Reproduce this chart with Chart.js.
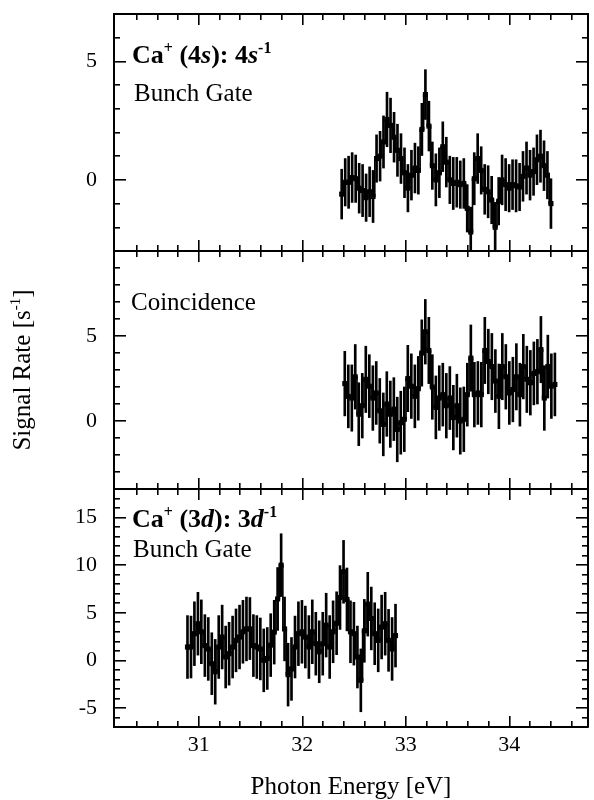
<!DOCTYPE html>
<html>
<head>
<meta charset="utf-8">
<script src="https://cdn.jsdelivr.net/npm/chart.js@4.4.1/dist/chart.umd.min.js"></script>
<style>
html,body{margin:0;padding:0;background:#fff;}
#wrap{position:relative;width:594px;height:800px;background:#fff;}
#wrap canvas{position:absolute;left:0;top:0;}
</style>
</head>
<body>
<div id="wrap">
<canvas id="c1" width="594" height="800"></canvas>
<canvas id="c2" width="594" height="800"></canvas>
<canvas id="c3" width="594" height="800"></canvas>
</div>
<script>
// ---------------- DATA ----------------
// Panel 1: Ca+ (4s): 4s^-1, Bunch Gate
const energy4s = [
  32.380, 32.414, 32.447, 32.481, 32.515, 32.549, 32.582, 32.616, 32.650, 32.683,
  32.717, 32.751, 32.784, 32.818, 32.852, 32.886, 32.919, 32.953, 32.987, 33.020,
  33.054, 33.088, 33.121, 33.155, 33.189, 33.223, 33.256, 33.290, 33.324, 33.357,
  33.391, 33.425, 33.458, 33.492, 33.526, 33.560, 33.593, 33.627, 33.661, 33.694,
  33.728, 33.762, 33.795, 33.829, 33.863, 33.897, 33.930, 33.964, 33.998, 34.031,
  34.065, 34.099, 34.132, 34.166, 34.200, 34.234, 34.267, 34.301, 34.335, 34.368,
  34.402
];
const signal4s = [
  -0.60, -0.10, -0.10, 0.10, 0.05, -0.35, -0.45, -0.75, -0.50, -0.70,
  0.90, 1.00, 1.60, 2.55, 2.30, 1.80, 1.25, 0.90, 0.30, -0.35,
  0.20, 0.50, 0.40, 2.13, 3.60, 2.27, 0.60, 0.00, 0.30, 1.40,
  0.75, 0.00, -0.15, -0.10, -0.20, -0.15, -1.20, -2.20, 0.05, 0.90,
  0.40, -0.40, -0.50, -0.85, -2.00, -0.90, 0.00, -0.20, -0.35, -0.20,
  -0.25, -0.30, 0.15, 0.50, 0.20, 0.35, 0.85, 1.00, 0.60, 0.20,
  -1.00
];
const error4s = [
  1.05, 1.00, 1.10, 1.05, 1.00, 1.05, 1.10, 1.00, 1.05, 1.10,
  1.00, 1.05, 1.10, 1.15, 1.15, 1.05, 1.10, 1.05, 1.05, 1.00,
  1.05, 1.05, 1.00, 1.10, 1.05, 1.05, 1.00, 1.10, 1.05, 1.05,
  1.05, 1.00, 1.10, 1.05, 1.00, 1.05, 1.00, 1.05, 1.10, 1.05,
  1.00, 1.05, 1.10, 1.00, 1.05, 1.00, 1.05, 1.10, 1.00, 1.05,
  1.10, 1.00, 1.05, 1.10, 1.05, 1.00, 1.05, 1.10, 1.05, 1.00,
  1.05
];

// Panel 2: Coincidence
const energyCoinc = [
  32.410, 32.444, 32.478, 32.511, 32.545, 32.579, 32.613, 32.647, 32.681, 32.714,
  32.748, 32.782, 32.816, 32.850, 32.884, 32.917, 32.951, 32.985, 33.019, 33.053,
  33.087, 33.120, 33.154, 33.188, 33.222, 33.256, 33.290, 33.323, 33.357, 33.391,
  33.425, 33.459, 33.493, 33.526, 33.560, 33.594, 33.628, 33.662, 33.696, 33.729,
  33.763, 33.797, 33.831, 33.865, 33.899, 33.932, 33.966, 34.000, 34.034, 34.068,
  34.102, 34.135, 34.169, 34.203, 34.237, 34.271, 34.305, 34.338, 34.372, 34.406,
  34.440
];
const signalCoinc = [
  2.20, 1.45, 1.35, 2.60, 0.40, 0.90, 2.45, 2.05, 1.35, 1.65,
  0.60, -0.20, 1.00, 0.40, 0.70, -0.50, -0.10, 0.10, 2.50, 2.05,
  1.45, 1.90, 4.00, 5.25, 4.15, 2.00, 0.80, 1.35, 1.55, 0.90,
  1.35, 0.20, 0.90, 0.00, 0.10, 1.55, 3.70, 1.55, 1.65, 1.55,
  4.15, 3.50, 3.20, 2.35, 1.45, 3.20, 2.60, 1.65, 1.85, 2.60,
  1.55, 3.20, 2.45, 2.25, 2.80, 2.90, 4.20, 1.35, 3.20, 2.05,
  2.15
];
const errorCoinc = [
  1.90, 1.85, 1.95, 1.90, 1.85, 1.90, 1.95, 1.85, 1.90, 1.85,
  1.90, 1.85, 1.90, 1.95, 1.85, 1.90, 1.85, 1.90, 1.95, 1.90,
  1.85, 1.90, 1.95, 1.90, 1.95, 1.90, 1.85, 1.90, 1.85, 1.90,
  1.85, 1.90, 1.85, 1.95, 1.90, 1.85, 1.95, 1.90, 1.85, 1.90,
  1.95, 1.90, 1.95, 1.85, 1.90, 1.95, 1.90, 1.85, 1.90, 1.95,
  1.85, 1.90, 1.95, 1.90, 1.85, 1.90, 1.95, 1.90, 1.85, 1.90,
  1.85
];

// Panel 3: Ca+ (3d): 3d^-1, Bunch Gate
const energy3d = [
  30.890, 30.924, 30.957, 30.991, 31.024, 31.058, 31.091, 31.125, 31.158, 31.192,
  31.225, 31.259, 31.292, 31.326, 31.359, 31.393, 31.426, 31.460, 31.493, 31.527,
  31.560, 31.594, 31.627, 31.661, 31.694, 31.728, 31.761, 31.795, 31.828, 31.862,
  31.895, 31.929, 31.962, 31.996, 32.029, 32.063, 32.096, 32.130, 32.163, 32.197,
  32.230, 32.264, 32.297, 32.331, 32.364, 32.398, 32.431, 32.465, 32.498, 32.532,
  32.565, 32.599, 32.632, 32.666, 32.699, 32.733, 32.766, 32.800, 32.833, 32.867,
  32.900
];
const signal3d = [
  1.40, 1.40, 2.80, 3.85, 3.00, 1.55, 1.20, -0.35, -1.20, 1.40,
  2.45, 0.35, 0.70, 1.40, 2.10, 2.45, 3.00, 3.30, 3.30, 1.55,
  1.40, 1.20, 0.00, 0.20, 1.60, 2.96, 6.45, 10.00, 3.30, -1.50,
  -0.90, 1.40, 2.80, 3.00, 2.45, 1.40, 3.00, 1.75, 0.90, 1.75,
  3.70, 1.40, 3.00, 3.90, 6.60, 9.30, 6.40, 3.00, 2.80, 0.35,
  -2.10, 3.10, 5.90, 4.40, 2.80, 2.10, 3.50, 3.85, 2.10, 1.20,
  2.60
];
const error3d = [
  3.30, 3.25, 3.35, 3.30, 3.35, 3.25, 3.30, 3.25, 3.40, 3.30,
  3.35, 3.25, 3.30, 3.25, 3.30, 3.35, 3.30, 3.35, 3.30, 3.25,
  3.30, 3.25, 3.30, 3.25, 3.30, 3.35, 3.30, 3.30, 3.35, 3.30,
  3.30, 3.25, 3.35, 3.30, 3.25, 3.30, 3.35, 3.30, 3.25, 3.30,
  3.35, 3.30, 3.25, 3.30, 3.35, 3.30, 3.30, 3.25, 3.30, 3.25,
  3.30, 3.30, 3.35, 3.30, 3.25, 3.30, 3.35, 3.30, 3.25, 3.30,
  3.30
];

// Axis ranges and ticks
const xRange = [30.18, 34.76];
const xMajorTicks = [31, 32, 33, 34];
const xMinorTicks = [30.4, 30.6, 30.8, 31.2, 31.4, 31.6, 31.8, 32.2, 32.4, 32.6, 32.8,
                     33.2, 33.4, 33.6, 33.8, 34.2, 34.4, 34.6];
const yRange4s = [-3, 7];
const yMajor4s = [0, 5];
const yMinor4s = [-2, -1, 1, 2, 3, 4, 6];
const yRangeCoinc = [-4, 10];
const yMajorCoinc = [0, 5];
const yMinorCoinc = [-3, -2, -1, 1, 2, 3, 4, 6, 7, 8, 9];
const yRange3d = [-7, 18];
const yMajor3d = [-5, 0, 5, 10, 15];
const yMinor3d = [-6, -4, -3, -2, -1, 1, 2, 3, 4, 6, 7, 8, 9, 11, 12, 13, 14, 16, 17];

// ---------------- STYLE / LAYOUT ----------------
const FONT = '"Liberation Serif", "Times New Roman", Times, serif';
Chart.defaults.font.family = FONT;
Chart.defaults.color = '#000';

const FONTS = {
  b: 'bold 26px ' + FONT,
  bi: 'italic bold 26px ' + FONT,
  r: '25px ' + FONT,
  supb: 'bold 16px ' + FONT,
  supr: '15px ' + FONT
};

function makeRichTextPlugin(items) {
  return {
    id: 'richText',
    afterDraw(chart) {
      const ctx = chart.ctx;
      items.forEach(item => {
        ctx.save();
        ctx.fillStyle = '#000';
        ctx.textBaseline = 'alphabetic';
        ctx.textAlign = 'left';
        let total = 0;
        item.segs.forEach(s => { ctx.font = FONTS[s[1]]; total += ctx.measureText(s[0]).width; });
        let x, y;
        if (item.rotate) {
          ctx.translate(item.x, item.y);
          ctx.rotate(-Math.PI / 2);
          x = -total / 2; y = 0;
        } else { x = item.x; y = item.y; }
        item.segs.forEach(s => {
          ctx.font = FONTS[s[1]];
          const dy = s[1].indexOf('sup') === 0 ? -10 : 0;
          ctx.fillText(s[0], x, y + dy);
          x += ctx.measureText(s[0]).width;
        });
        ctx.restore();
      });
    }
  };
}

function tickAxis(axis, pos, range, values, len, o) {
  o = o || {};
  const horiz = axis === 'x';
  return {
    type: 'linear', axis: axis, position: pos,
    min: range[0], max: range[1], offset: false,
    weight: o.weight || 0,
    afterBuildTicks: s => { s.ticks = values.map(v => ({ value: v })); },
    afterFit: s => {
      if (horiz) s.height = o.size || 0; else s.width = o.size || 0;
      s.paddingLeft = 0; s.paddingRight = 0; s.paddingTop = 0; s.paddingBottom = 0;
    },
    grid: {
      display: true, drawOnChartArea: false, drawTicks: true, offset: false,
      tickLength: -len, tickWidth: 1.6, tickColor: '#000', color: '#000', lineWidth: 1.6
    },
    border: { display: !!o.border, color: '#000', width: 2 },
    ticks: {
      display: !!o.labels, autoSkip: false, maxRotation: 0, minRotation: 0,
      padding: o.pad || 0, color: '#000',
      font: { family: FONT, size: 22 },
      callback: v => String(v)
    },
    title: o.title ? o.title : { display: false }
  };
}

function makePanel(id, p) {
  const errData = p.x.map((x, i) => ({ x: x, y: [p.y[i] - p.e[i], p.y[i] + p.e[i]] }));
  const lineData = p.x.map((x, i) => ({ x: x, y: p.y[i] }));
  const scales = {
    x: tickAxis('x', 'bottom', xRange, xMajorTicks, 11, {
      border: true, labels: p.xLabels, pad: 16, weight: 10, size: p.xLabels ? 73 : 0,
      title: p.xLabels ? {
        display: true, text: 'Photon Energy [eV]', color: '#000',
        font: { family: FONT, size: 25, lineHeight: 1.0 }, padding: { top: 0, bottom: 0 }
      } : null
    }),
    xMinor: tickAxis('x', 'bottom', xRange, xMinorTicks, 6, {}),
    xTop: tickAxis('x', 'top', xRange, xMajorTicks, 11, { border: true }),
    xTopMinor: tickAxis('x', 'top', xRange, xMinorTicks, 6, {}),
    y: tickAxis('y', 'left', p.yRange, p.yMajor, 12, { border: true, labels: true, pad: 29, weight: 10, size: 114 }),
    yMinor: tickAxis('y', 'left', p.yRange, p.yMinor, 6, {}),
    yRight: tickAxis('y', 'right', p.yRange, p.yMajor, 12, { border: true }),
    yRightMinor: tickAxis('y', 'right', p.yRange, p.yMinor, 6, {})
  };
  return new Chart(document.getElementById(id), {
    type: 'line',
    data: {
      datasets: [
        {
          type: 'bar', label: p.name + ' error', data: errData,
          xAxisID: 'x', yAxisID: 'y',
          backgroundColor: '#000', borderWidth: 0, barThickness: 2, grouped: false,
          clip: 0, order: 2
        },
        {
          type: 'line', label: p.name, data: lineData,
          xAxisID: 'x', yAxisID: 'y',
          borderColor: '#000', borderWidth: 1.6, stepped: 'middle', fill: false,
          pointStyle: 'rect', pointRadius: 3.6, pointBackgroundColor: '#000',
          pointBorderColor: '#000', pointBorderWidth: 0, order: 1
        }
      ]
    },
    options: {
      responsive: false, animation: false, events: [],
      layout: { autoPadding: false, padding: { left: 0, right: 6, top: p.top, bottom: p.bottom } },
      plugins: { legend: { display: false }, tooltip: { enabled: false } },
      scales: scales
    },
    plugins: [makeRichTextPlugin(p.texts)]
  });
}

makePanel('c1', {
  name: 'Ca+ (4s): 4s-1 Bunch Gate', x: energy4s, y: signal4s, e: error4s,
  yRange: yRange4s, yMajor: yMajor4s, yMinor: yMinor4s,
  top: 14, bottom: 800 - 251, xLabels: false,
  texts: [
    { x: 132, y: 62.5, segs: [['Ca', 'b'], ['+', 'supb'], [' (4', 'b'], ['s', 'bi'], ['): 4', 'b'], ['s', 'bi'], ['-1', 'supb']] },
    { x: 134, y: 100.5, segs: [['Bunch Gate', 'r']] }
  ]
});
makePanel('c2', {
  name: 'Coincidence', x: energyCoinc, y: signalCoinc, e: errorCoinc,
  yRange: yRangeCoinc, yMajor: yMajorCoinc, yMinor: yMinorCoinc,
  top: 251, bottom: 800 - 489, xLabels: false,
  texts: [
    { x: 131, y: 309.5, segs: [['Coincidence', 'r']] },
    { x: 30, y: 370, rotate: true, segs: [['Signal Rate [s', 'r'], ['-1', 'supr'], [']', 'r']] }
  ]
});
makePanel('c3', {
  name: 'Ca+ (3d): 3d-1 Bunch Gate', x: energy3d, y: signal3d, e: error3d,
  yRange: yRange3d, yMajor: yMajor3d, yMinor: yMinor3d,
  top: 489, bottom: 0, xLabels: true,
  texts: [
    { x: 132, y: 526.5, segs: [['Ca', 'b'], ['+', 'supb'], [' (3', 'b'], ['d', 'bi'], ['): 3', 'b'], ['d', 'bi'], ['-1', 'supb']] },
    { x: 133, y: 557, segs: [['Bunch Gate', 'r']] }
  ]
});
</script>
</body>
</html>
